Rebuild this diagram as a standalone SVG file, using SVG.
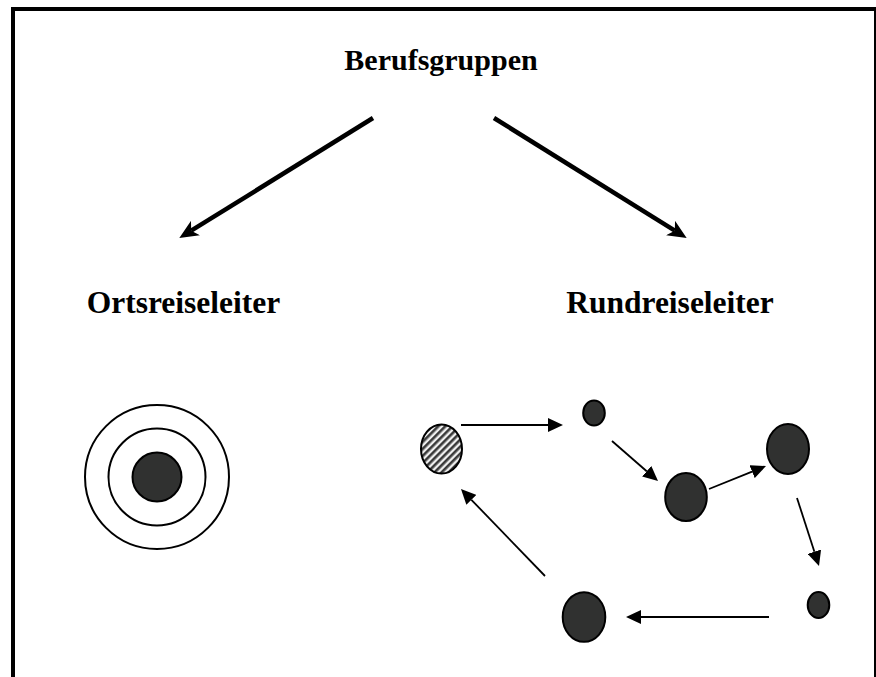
<svg xmlns="http://www.w3.org/2000/svg" width="876" height="677" viewBox="0 0 876 677">
  <style>
    .label { font-family: "Liberation Serif", "Times New Roman", serif; font-weight: bold; font-size: 31.5px; fill: #000; text-anchor: middle; }
    .title { font-size: 30px; }
    .frame { fill: none; stroke: #000; stroke-width: 4; }
    .ring { fill: none; stroke: #000; stroke-width: 2; }
    .stop { fill: #303130; stroke: #000; stroke-width: 2; }
    .start { fill: url(#hatch); stroke: #000; stroke-width: 2; }
    .big { stroke: #000; stroke-width: 4.5; fill: none; marker-end: url(#headBig); }
    .small { stroke: #000; stroke-width: 1.8; fill: none; marker-end: url(#headSmall); }
  </style>
  <defs>
    <pattern id="hatch" patternUnits="userSpaceOnUse" width="5" height="5" patternTransform="rotate(45)">
      <rect x="0" y="0" width="5" height="5" fill="#eeeeee"/>
      <rect x="0" y="0" width="2.6" height="5" fill="#3a3a3a"/>
    </pattern>
    <!-- notched arrowhead for the two thick arrows; ref point sits in the notch -->
    <marker id="headBig" viewBox="0 0 19 17" refX="5" refY="8.5" markerWidth="19" markerHeight="17" markerUnits="userSpaceOnUse" orient="auto">
      <path d="M0,0 L19,8.5 L0,17 L5,8.5 z" fill="#000"/>
    </marker>
    <!-- plain triangle for the tour arrows; ref point at its base -->
    <marker id="headSmall" viewBox="0 0 15 14" refX="0" refY="7" markerWidth="15" markerHeight="14" markerUnits="userSpaceOnUse" orient="auto">
      <path d="M0,0 L15,7 L0,14 z" fill="#000"/>
    </marker>
  </defs>

  <rect width="876" height="677" fill="#fff"/>
  <rect class="frame" x="13" y="9" width="863" height="700"/>

  <g id="berufsgruppen">
    <text class="label title" x="441" y="70">Berufsgruppen</text>
  </g>
  <g id="ortsreiseleiter">
    <text class="label" x="183.5" y="313">Ortsreiseleiter</text>
  </g>
  <g id="rundreiseleiter">
    <text class="label" x="670" y="313">Rundreiseleiter</text>
  </g>

  <!-- local guide: one place, concentric rings -->
  <g id="target">
    <circle class="ring" cx="157" cy="477" r="72"/>
    <circle class="ring" cx="157" cy="477" r="48.5"/>
    <circle class="stop" cx="157" cy="477" r="24.5"/>
  </g>

  <!-- tour guide: sequence of stops -->
  <g id="stop-start"><ellipse class="start" cx="441.5" cy="449" rx="20.5" ry="24.5"/></g>
  <g id="stop-1"><ellipse class="stop" cx="594" cy="413" rx="10.8" ry="12.5"/></g>
  <g id="stop-2"><ellipse class="stop" cx="686" cy="497" rx="20.8" ry="24"/></g>
  <g id="stop-3"><ellipse class="stop" cx="788" cy="449" rx="21" ry="25"/></g>
  <g id="stop-4"><ellipse class="stop" cx="818.5" cy="605" rx="10.8" ry="13"/></g>
  <g id="stop-5"><ellipse class="stop" cx="584" cy="617" rx="21.3" ry="24.8"/></g>

  <g id="connectors">
    <line class="big" x1="373" y1="118" x2="191.2" y2="230.7"/>
    <line class="big" x1="494" y1="118" x2="674.8" y2="230.7"/>
    <line class="small" x1="461" y1="425" x2="548" y2="425"/>
    <line class="small" x1="612" y1="441" x2="646.7" y2="471.2"/>
    <line class="small" x1="709" y1="489" x2="752.1" y2="471.6"/>
    <line class="small" x1="797" y1="498" x2="814.4" y2="551.7"/>
    <line class="small" x1="769" y1="617" x2="641" y2="617"/>
    <line class="small" x1="545" y1="576" x2="471.4" y2="499.8"/>
  </g>
</svg>
